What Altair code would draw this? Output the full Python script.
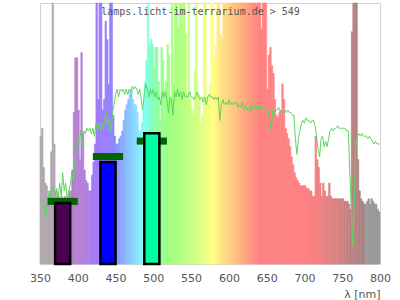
import altair as alt
import pandas as pd

# ---- data ----
NM_START = 350
NM_STEP = 2
# lamp spectrum, % of plot height (100 = top), bins of 2 nm from 350 nm
SPECTRUM = [
    49, 52, 37, 31, 30, 26, 28, 43, 100, 46,      # 350-368
    28, 26, 26, 25, 26, 25, 26, 25, 26, 28,       # 370-388
    28, 36, 58, 79, 79, 59, 40, 81, 50, 36,       # 390-408
    32, 31, 28, 28, 34, 39, 46, 100, 63, 100,     # 410-428
    100, 59, 63, 93, 86, 69, 100, 100, 57, 49,    # 430-448
    46, 46, 48, 49, 51, 55, 59, 61, 63, 66,       # 450-468
    67, 63, 61, 61, 58, 51, 51, 54, 59, 70,       # 470-488
    78, 100, 84, 86, 84, 75, 83, 83, 70, 55,      # 490-508
    83, 78, 67, 70, 84, 80, 63, 100, 69, 100,     # 510-528
    100, 91, 100, 100, 100, 100, 88, 65, 100, 63, # 530-548
    59, 57, 74, 100, 65, 65, 54, 57, 100, 100,    # 550-568
    64, 64, 69, 100, 100, 79, 84, 100, 100, 88,   # 570-588
    86, 100, 100, 100, 100, 100, 100, 100, 100, 100,  # 590-608
    100, 100, 100, 100, 100, 100, 100, 100, 100, 100, # 610-628
    100, 100, 100, 100, 100, 100, 90, 100, 100, 100,  # 630-648
    67, 80, 83, 76, 73, 63, 57, 56, 58, 59,       # 650-668
    69, 63, 52, 50, 48, 45, 41, 38, 35, 33,       # 670-688
    32, 31, 30, 30, 30, 30, 29, 29, 28, 28,       # 690-708
    26, 26, 49, 40, 37, 31, 26, 31, 28, 26,       # 710-728
    26, 31, 26, 25, 25, 25, 25, 25, 25, 25,       # 730-748
    25, 24, 24, 24, 23, 21, 89, 100, 100, 100,    # 750-768
    40, 28, 25, 24, 23, 23, 24, 25, 23, 25,       # 770-788
    24, 23, 23, 21, 20,                           # 790-798
]

REF_START = 352
# green reference curve, % of plot height, every 2 nm from 352 nm
REFERENCE = [
    23, 25, 21, 18, 23, 28, 25, 30, 28, 26,   # 352-370
    29, 25, 31, 26, 35, 28, 31, 25, 28, 30,   # 372-390
    35, 32, 38, 44, 49, 47, 51, 45, 51, 50,   # 392-410
    52, 51, 52, 50, 52, 49, 54, 51, 54, 51,   # 412-430
    54, 52, 56, 58, 53, 56, 51, 58, 61, 65,   # 432-450
    67, 64, 67, 66, 67, 65, 67, 65, 67, 66,   # 452-470
    68, 67, 68, 67, 65, 67, 63, 59, 65, 69,   # 472-490
    67, 64, 67, 65, 67, 64, 66, 63, 64, 61,   # 492-510
    66, 64, 66, 63, 58, 64, 63, 57, 66, 64,   # 512-530
    67, 64, 66, 63, 66, 64, 64, 64, 66, 64,   # 532-550
    64, 63, 64, 66, 64, 63, 64, 62, 64, 61,   # 552-570
    64, 65, 64, 64, 63, 64, 63, 64, 55, 61,   # 572-590
    63, 61, 62, 61, 63, 61, 62, 61, 62, 62,   # 592-610
    60, 61, 60, 62, 59, 61, 59, 60, 58, 61,   # 612-630
    59, 61, 59, 61, 59, 60, 61, 59, 60, 59,   # 632-650
    59, 55, 51, 59, 58, 59, 59, 60, 58, 59,   # 652-670
    58, 59, 58, 59, 58, 58, 57, 57, 48, 42,   # 672-690
    48, 51, 54, 55, 54, 56, 55, 55, 54, 55,   # 692-710
    55, 53, 49, 44, 41, 48, 49, 45, 47, 45,   # 712-730
    48, 51, 52, 51, 52, 52, 53, 52, 52, 52,   # 732-750
    52, 52, 51, 51, 35, 22, 7, 25, 45, 49,    # 752-770
    50, 49, 50, 49, 49, 49, 48, 49, 48, 47,   # 772-790
    46, 47, 46, 46, 46,                       # 792-800
]

BAR_FROM = [370, 430, 488]
BAR_TO = [390, 450, 508]
BAR_VALUE = [23.4, 39.1, 50.1]
BAR_COLOR = ["#4b0050", "#0000ff", "#00ffa0"]

MARK_FROM = [360, 420, 478]
MARK_TO = [400, 460, 518]
MARK_VALUE = [24.0, 41.2, 47.1]

TICKS = [350, 400, 450, 500, 550, 600, 650, 700, 750, 800]
TITLE = "lamps.licht-im-terrarium.de > 549"
X_TITLE = "λ [nm]"

# wavelength -> colour stops of the spectrum fill
COLOR_NM = [350, 382, 392, 410, 422, 438, 448, 458, 470, 480, 488, 496, 506,
            520, 540, 556, 568, 578, 590, 600, 612, 626, 640, 700, 720, 750,
            770, 779, 780, 800]
COLOR_HEX = ["#b0a8b0", "#b0a8b0", "#b57ec8", "#b07ee0", "#a078f8", "#9c80ff",
             "#8888ff", "#88a8ff", "#88ccff", "#88e8ff", "#80fff0", "#80ffc8",
             "#90ff98", "#a0ff80", "#b8ff80", "#d0ff80", "#ecff80", "#ffff80",
             "#ffe080", "#ffd080", "#ffb880", "#ff9c80", "#ff8080", "#ff8080",
             "#f08080", "#cc8080", "#b08080", "#a88080", "#999999", "#999999"]

# ---- tables ----
spec_df = pd.DataFrame({
    "nm": [NM_START + i * NM_STEP for i in range(len(SPECTRUM))],
    "v": SPECTRUM,
})
spec_df["nm2"] = spec_df["nm"] + NM_STEP

ref_df = pd.DataFrame({
    "nm": [REF_START + i * NM_STEP for i in range(len(REFERENCE))],
    "v": REFERENCE,
})

bar_df = pd.DataFrame({"a": BAR_FROM, "b": BAR_TO, "v": BAR_VALUE, "c": BAR_COLOR})
mark_df = pd.DataFrame({"a": MARK_FROM, "b": MARK_TO, "v": MARK_VALUE})
mark_df["top"] = mark_df["v"] + 1.35
mark_df["bot"] = mark_df["v"] - 1.35

xs = alt.Scale(domain=[350, 800], nice=False, zero=False)
ys = alt.Scale(domain=[0, 100], nice=False, zero=True)
cs = alt.Scale(domain=COLOR_NM, range=COLOR_HEX, interpolate="rgb")

x_axis = alt.Axis(values=TICKS, title=X_TITLE)

spectrum = alt.Chart(spec_df).mark_rect(strokeWidth=0.6).encode(
    x=alt.X("nm:Q", scale=xs, axis=x_axis),
    x2="nm2:Q",
    y=alt.Y("v:Q", scale=ys, axis=None),
    y2=alt.datum(0),
    fill=alt.Fill("nm:Q", scale=cs, legend=None),
    stroke=alt.Stroke("nm:Q", scale=cs, legend=None),
)

line = alt.Chart(ref_df).mark_line(color="#5cd65c", strokeWidth=1).encode(
    x=alt.X("nm:Q", scale=xs, axis=x_axis),
    y=alt.Y("v:Q", scale=ys, axis=None),
)

markers = alt.Chart(mark_df).mark_rect(color="#006400").encode(
    x=alt.X("a:Q", scale=xs, axis=x_axis),
    x2="b:Q",
    y=alt.Y("top:Q", scale=ys, axis=None),
    y2="bot:Q",
)

bars = alt.Chart(bar_df).mark_rect(stroke="black", strokeWidth=2.5).encode(
    x=alt.X("a:Q", scale=xs, axis=x_axis),
    x2="b:Q",
    y=alt.Y("v:Q", scale=ys, axis=None),
    y2=alt.datum(0),
    fill=alt.Fill("c:N", scale=None),
)

label = alt.Chart(pd.DataFrame({"t": [TITLE]})).mark_text(
    font="DejaVu Sans Mono", fontSize=10, color="#555555",
    align="center", baseline="alphabetic",
).encode(text="t:N", x=alt.value(160.5), y=alt.value(11.5))

chart = alt.layer(spectrum, line, markers, bars, label).properties(
    width=340, height=261,
    padding={"left": 40, "top": 3, "right": 20, "bottom": 36},
    autosize=alt.AutoSizeParams(type="none"),
    background="white",
).configure_view(
    stroke="#d4d4d4", strokeWidth=1
).configure_axisX(
    ticks=False, domain=False, grid=False,
    labelFont="DejaVu Sans", labelFontSize=11, labelColor="#555555",
    labelPadding=8, labelFlush=False, labelOverlap=False, labelBound=False,
    titleFont="DejaVu Sans", titleFontSize=11, titleFontWeight="normal",
    titleColor="#555555", titleAnchor="end", titleAlign="right",
    titleX=340, titleY=33, titleBaseline="alphabetic",
)

chart.save("out.html", embed_options={"renderer": "svg", "actions": False})
